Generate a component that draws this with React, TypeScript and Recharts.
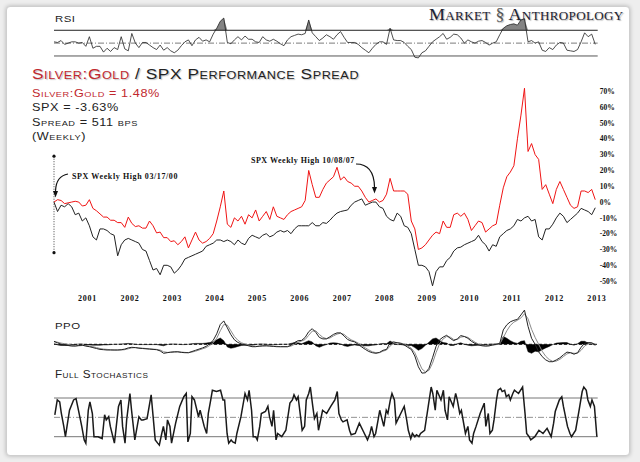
import { LineChart, Line, ComposedChart, Area, XAxis, YAxis, ReferenceLine, ReferenceDot } from 'recharts';

// weekly bars start at the SPX high of 03/17/00; values below are read monthly
const START = 2000.21;
const WEEKS_PER_MONTH = 52 / 12;
const LAST_WEEK = 666;

const yearTicks = [2001, 2002, 2003, 2004, 2005, 2006, 2007, 2008, 2009, 2010, 2011, 2012, 2013];
const spreadTicks = [-50, -40, -30, -20, -10, 0, 10, 20, 30, 40, 50, 60, 70];

// % change since 03/17/00, one value per month
const silverGold = [
  0, 1.5, 1, -1, -0.5, 0, 0.5, 0, -2.5, -2, 1.5, -4, -5.5, -7.5, -9.5, -9.5, -11.5, -11.5, -13, -13,
  -16, -9.5, -13.5, -15.5, -15, -16.5, -16.5, -12, -15, -19.5, -19, -22.5, -22.5, -25, -24.5, -27, -25, -22, -29, -24,
  -19, -24, -26, -25, -23, -20, -12, -3, 7, -14, -16, -10, -12, -9, -14, -8, -10, -5, -12, -9,
  -6, -11, -3, -9, -10, -11, -8, -6, -5, -4, -3, 1, 20, 11, 3, 3, 8, 12, 14, 16,
  22, 14, 16, 13, 12, 10, 10, 7, 3, 0, 1, 2, 0, 1, 5, 15, 7, 7, 7, 7,
  5, -12, -17, -30, -29, -27, -24, -21, -19, -20, -12, -16, -16, -8, -7, -9, -7, -11, -18, -15,
  -12, -13, -19, -17, -15, -14, -2, 9, 16, 19, 23, 40, 55, 72, 32, 37, 30, 27, 8, 11,
  5, -1, 8, 13, 8, 3, -2, -4, -3, 7, 7, 6, 8, 1.5,
];

const spx = [
  0, -6, -2, -3, -1, -3, -8, -7, -12, -10, -15, -22, -24, -17, -17, -18, -20, -21, -34, -27,
  -24, -23, -24, -25, -26, -30, -31, -37, -43, -42, -46, -40, -40, -41, -45, -43, -40, -36, -35, -34,
  -33, -32, -31, -28, -27, -26, -24, -24, -25, -24, -25, -27, -24, -26, -27, -23, -21, -22, -23, -21,
  -20, -22, -21, -19, -18, -19, -18, -20, -17, -15, -15, -15, -15, -13, -15, -15, -13, -13.5, -11.5, -9,
  -7, -6, -5.5, -5, -2, 0, 1, 2, -2, -1, 0, 0, -3, -4, -9, -11, -12, -7, -9, -15,
  -16, -20, -30, -40, -40, -41, -44, -53, -44, -41, -41, -37, -35, -31, -29, -28.5, -27, -26, -25, -24,
  -21, -25, -27, -31, -27, -28, -22, -20, -18, -17, -15, -11, -12, -10, -9, -12, -11, -22, -24, -17,
  -17, -14, -10, -7, -9, -13, -11, -9, -7, -4, -5, -6, -8, -3.6,
];

const rsi = [
  52, 51, 54, 48, 50, 52, 52, 50, 51, 45, 60, 42, 45, 45, 36, 42, 37, 43, 40, 60,
  41, 38, 65, 50, 43, 51, 51, 47, 43, 40, 47, 39, 43, 38, 35, 39, 46, 52, 55, 46,
  55, 59, 53, 55, 52, 64, 73, 84, 89, 51, 49, 55, 60, 55, 61, 56, 56, 52, 51, 60,
  55, 53, 56, 53, 49, 46, 55, 60, 62, 64, 63, 65, 86, 66, 60, 54, 58, 63, 60, 56,
  63, 68, 59, 51, 51, 51, 48, 43, 39, 35, 42, 48, 52, 52, 48, 73, 55, 54, 54, 51,
  45, 40, 28, 27, 35, 38, 45, 52, 56, 60, 65, 56, 59, 64, 63, 58, 50, 55, 52, 50,
  53, 54, 51, 47, 50, 52, 63, 73, 77, 79, 80, 78, 86, 88, 52, 54, 50, 52, 39, 37,
  43, 40, 47, 51, 50, 39, 38, 37, 40, 52, 66, 60, 64, 48,
];

const ppo = [
  1, 0.5, 0, -0.2, -0.4, -0.6, -0.6, -0.4, -0.3, -0.6, -0.8, -1.1, -1.4, -1.7, -1.8, -1.9, -1.9, -1.9, -1.9, -1.8,
  -1.6, -1.2, -1, -1.1, -1.3, -1.4, -1.5, -1.6, -1.7, -1.8, -2.2, -3, -2.8, -2.6, -2.5, -2.5, -2.7, -2.8, -2.8, -2.4,
  -2, -1.6, -1.2, -0.7, 0.2, 1.3, 3.5, 6.6, 7.8, 5.5, 3.2, 1.5, 0.6, 0.1, -0.2, -0.5, -0.8, -0.8, -0.6, -0.5,
  -0.5, -0.6, -0.7, -0.8, -0.8, -0.8, -0.8, -0.3, 0.6, 1.2, 1.3, 2.3, 4.2, 5.2, 4, 2.3, 1.8, 1.8, 2.5, 3.3,
  3.8, 3.8, 2.8, 1.6, 1.1, 0.8, 0, -0.9, -1.7, -2.4, -2.8, -3, -2.7, -2, -1.7, 0.5, 0.8, 0.5, 0.3, -0.2,
  -1, -1.7, -3.9, -7.5, -9.6, -9.5, -8, -4.5, -0.7, 1.5, 2.4, 3, 2, 1.2, 1.8, 2.9, 2.6, 2, 1, 0.3,
  -0.2, -0.5, -0.6, -0.5, -0.2, 0, 0.3, 4.8, 6.5, 7.5, 8, 8.3, 9.8, 11.4, 6, 2, 0, -2.5, -4.1, -5.2,
  -5.8, -5.8, -5.2, -4.5, -3.5, -2.6, -2.8, -3.3, -2.8, -1, 0.4, 0.6, 0.5, -0.2,
];

const ppoSignal = [
  0.8, 0.7, 0.4, 0.2, 0, -0.3, -0.5, -0.5, -0.4, -0.4, -0.6, -0.8, -1.1, -1.4, -1.6, -1.7, -1.8, -1.9, -1.9, -1.9,
  -1.8, -1.5, -1.2, -1.1, -1.2, -1.3, -1.4, -1.5, -1.6, -1.7, -1.9, -2.5, -2.7, -2.7, -2.6, -2.5, -2.6, -2.7, -2.8, -2.6,
  -2.3, -1.9, -1.5, -1.1, -0.4, 0.5, 2, 4.5, 6.6, 6.4, 4.5, 2.6, 1.3, 0.5, 0.1, -0.2, -0.5, -0.7, -0.7, -0.6,
  -0.5, -0.5, -0.6, -0.7, -0.8, -0.8, -0.8, -0.6, 0, 0.7, 1.1, 1.6, 3, 4.4, 4.5, 3.3, 2.3, 1.9, 2.1, 2.8,
  3.4, 3.7, 3.3, 2.3, 1.5, 1, 0.4, -0.4, -1.2, -1.9, -2.5, -2.8, -2.8, -2.3, -1.9, -0.6, 0.4, 0.6, 0.4, 0.1,
  -0.6, -1.3, -2.8, -5.5, -8.2, -9.2, -8.7, -6.3, -2.8, 0.2, 1.8, 2.6, 2.4, 1.6, 1.6, 2.4, 2.6, 2.3, 1.5, 0.7,
  0.1, -0.3, -0.5, -0.5, -0.3, -0.1, 0.1, 2.2, 4.5, 6.3, 7.4, 8, 8.8, 10.2, 8.5, 5, 2.3, 0, -2.3, -4,
  -5.1, -5.7, -5.6, -5, -4.1, -3.2, -2.8, -3, -3, -2, -0.6, 0.2, 0.4, 0.1,
];

// [week, %K]
const stochastics: [number, number][] = [
  [1, 54], [4, 77], [7, 74], [9, 56], [12, 36], [14, 20], [19, 61], [24, 77], [27, 79], [29, 67],
  [34, 36], [37, 15], [39, 10], [42, 61], [44, 74], [47, 56], [49, 20], [54, 20], [59, 17], [62, 54],
  [64, 46], [67, 51], [69, 36], [74, 10], [79, 67], [82, 77], [84, 36], [87, 10], [89, 46], [93, 87],
  [95, 61], [99, 15], [104, 51], [107, 46], [109, 46], [114, 48], [119, 85], [124, 15], [127, 10], [129, 7],
  [132, 25], [134, 36], [137, 15], [139, 46], [142, 36], [144, 10], [149, 41], [154, 67], [159, 82], [162, 87],
  [164, 12], [167, 25], [169, 82], [172, 77], [177, 51], [179, 61], [182, 46], [184, 36], [187, 25], [189, 56],
  [192, 77], [194, 92], [199, 90], [204, 92], [207, 77], [209, 77], [212, 25], [214, 10], [217, 15], [219, 12],
  [222, 10], [224, 25], [229, 51], [234, 87], [237, 77], [239, 92], [242, 61], [244, 20], [247, 20], [249, 15],
  [252, 36], [254, 56], [259, 59], [262, 67], [264, 51], [267, 36], [269, 61], [272, 15], [274, 25], [279, 20],
  [284, 30], [289, 72], [292, 77], [294, 85], [297, 77], [299, 82], [302, 51], [304, 30], [307, 36], [309, 77],
  [312, 87], [314, 97], [317, 67], [319, 48], [322, 56], [324, 30], [329, 61], [334, 56], [339, 67], [344, 77],
  [347, 90], [349, 56], [352, 46], [354, 43], [359, 46], [362, 30], [364, 23], [369, 25], [374, 41], [379, 28],
  [384, 15], [387, 25], [389, 36], [392, 20], [394, 25], [397, 46], [399, 61], [402, 46], [404, 36], [407, 61],
  [409, 56], [412, 77], [414, 87], [417, 77], [419, 41], [424, 54], [429, 67], [432, 46], [434, 30], [437, 17],
  [439, 25], [442, 20], [444, 23], [447, 20], [449, 25], [454, 30], [459, 72], [462, 97], [464, 87], [467, 61],
  [469, 92], [474, 77], [477, 92], [479, 61], [482, 46], [484, 82], [489, 67], [492, 87], [494, 77], [497, 56],
  [499, 61], [504, 25], [507, 36], [509, 15], [512, 10], [514, 25], [517, 36], [522, 56], [527, 72], [529, 36],
  [532, 56], [534, 25], [537, 30], [539, 46], [542, 77], [544, 92], [547, 95], [549, 90], [552, 92], [554, 82],
  [557, 85], [559, 77], [562, 87], [564, 92], [569, 87], [574, 97], [577, 56], [579, 25], [582, 20], [584, 15],
  [589, 20], [594, 30], [599, 25], [604, 33], [609, 20], [612, 41], [614, 59], [619, 77], [622, 82], [624, 67],
  [629, 36], [632, 25], [634, 20], [639, 30], [644, 67], [647, 90], [649, 97], [652, 92], [654, 77], [657, 67],
  [659, 77], [662, 67], [665, 20],
];

const weekOfYear = (year: number) => (year - START) * 52;

const mainRows = silverGold.map((v, i) => ({ week: i * WEEKS_PER_MONTH, silverGold: v, spx: spx[i] }));
const rsiRows = rsi.map((v, i) => ({ week: i * WEEKS_PER_MONTH, rsi: v, over: Math.max(v, 70) }));
const ppoRows = ppo.map((v, i) => ({
  week: i * WEEKS_PER_MONTH,
  ppo: v,
  signal: ppoSignal[i],
  hist: v - ppoSignal[i],
}));
const stochRows = stochastics.map(([week, k]) => ({ week, k }));

const W = 640;
const PLOT_LEFT = 54;
const PLOT_RIGHT = 597.7;
const sideMargin = { left: PLOT_LEFT, right: W - PLOT_RIGHT };

const tickFont = { fontFamily: '"Liberation Serif", serif', fontWeight: 700, fontSize: 7.5, fill: '#111' };
const capsFont = { fontFamily: '"Liberation Sans", Arial, sans-serif', fontVariant: 'small-caps' as const };
const dashDot = '6 2 1 2';

function Label({ x, y, size, stretch, children }: { x: number; y: number; size: number; stretch: number; children: React.ReactNode }) {
  return (
    <div
      style={{
        position: 'absolute', left: x, top: y, fontSize: size, color: '#222', whiteSpace: 'nowrap',
        letterSpacing: 0.4, transform: `scaleX(${stretch})`, transformOrigin: 'left top', ...capsFont,
      }}
    >
      {children}
    </div>
  );
}

export default function App() {
  const hiddenX = <XAxis dataKey="week" type="number" domain={[0, LAST_WEEK]} hide />;

  return (
    <div style={{ position: 'absolute', left: 0, top: 0, width: W, height: 462, background: '#eeeeee', overflow: 'hidden' }}>
      <div
        style={{
          position: 'absolute', left: 6, top: 6, width: 622, height: 448, background: '#fff',
          border: '1px solid #cfcfcf', borderRadius: 4, boxShadow: '0 0 4px rgba(0,0,0,0.25)',
        }}
      />

      {/* logo */}
      <div
        style={{
          position: 'absolute', left: 429, top: 5, fontSize: 16.5, color: '#1c2230', whiteSpace: 'nowrap',
          fontFamily: '"Liberation Serif", serif', fontVariant: 'small-caps', letterSpacing: 0.3,
          textShadow: '1px 1px 1px rgba(0,0,0,0.3)', transform: 'scaleX(1.09)', transformOrigin: 'left top',
        }}
      >
        Market <span style={{ color: '#555' }}>§</span> Anthropology
      </div>

      <Label x={55} y={13} size={9.5} stretch={1.2}>RSI</Label>
      <div style={{ position: 'absolute', left: 0, top: 0 }}>
        <ComposedChart width={W} height={70} data={rsiRows} margin={{ top: 14.2, bottom: 7.6, ...sideMargin }}>
          {hiddenX}
          <YAxis hide domain={[20, 95]} />
          <ReferenceLine y={70} stroke="#222" strokeWidth={1} />
          <ReferenceLine y={30} stroke="#555" strokeWidth={1} />
          <ReferenceLine y={50} stroke="#444" strokeWidth={0.7} strokeDasharray={dashDot} />
          <Area dataKey="over" baseValue={70} stroke="none" fill="#777" fillOpacity={0.9} isAnimationActive={false} />
          <Line dataKey="rsi" stroke="#222" strokeWidth={0.8} dot={false} isAnimationActive={false} />
        </ComposedChart>
      </div>

      {/* title block */}
      <div
        style={{
          position: 'absolute', left: 32, top: 65, fontSize: 15, color: '#222', whiteSpace: 'nowrap',
          letterSpacing: 0.5, textShadow: '1px 1px 1px rgba(0,0,0,0.25)',
          transform: 'scaleX(1.15)', transformOrigin: 'left top', ...capsFont,
        }}
      >
        <span style={{ color: '#c1272d' }}>Silver:Gold</span> / SPX Performance Spread
      </div>
      <div
        style={{
          position: 'absolute', left: 32, top: 86, fontSize: 11, lineHeight: '14.4px', color: '#222',
          whiteSpace: 'nowrap', letterSpacing: 0.5, transform: 'scaleX(1.15)', transformOrigin: 'left top', ...capsFont,
        }}
      >
        <div style={{ color: '#c1272d' }}>Silver:Gold = 1.48%</div>
        <div>SPX = -3.63%</div>
        <div>Spread = 511 bps</div>
        <div>(Weekly)</div>
      </div>

      {/* main spread chart */}
      <div style={{ position: 'absolute', left: 0, top: 0 }}>
        <LineChart width={W} height={310} data={mainRows} margin={{ top: 83.5, bottom: 0, left: PLOT_LEFT, right: 6.3 }}>
          <XAxis
            dataKey="week"
            type="number"
            domain={[0, LAST_WEEK]}
            ticks={yearTicks.map(weekOfYear)}
            tickFormatter={(w: number) => String(Math.round(w / 52 + START))}
            axisLine={false}
            tickLine={false}
            tickSize={0}
            tickMargin={6}
            height={21}
            tick={{ ...tickFont, fontSize: 8, letterSpacing: 0.8 }}
            interval={0}
          />
          <YAxis
            orientation="right"
            domain={[-55, 75]}
            ticks={spreadTicks}
            tickFormatter={(v: number) => `${v}%`}
            axisLine={false}
            tickLine={false}
            tickSize={0}
            tickMargin={2}
            width={36}
            tick={{ ...tickFont, textAnchor: 'start' }}
            interval={0}
          />
          <ReferenceLine
            segment={[{ x: 0, y: 29 }, { x: 0, y: -32 }]}
            stroke="#111"
            strokeWidth={0.8}
            strokeDasharray="1 1.5"
            ifOverflow="visible"
          />
          <ReferenceDot x={0} y={29} r={1.6} fill="#111" stroke="none" ifOverflow="visible" />
          <ReferenceDot x={0} y={-32} r={1.6} fill="#111" stroke="none" ifOverflow="visible" />
          <Line dataKey="spx" stroke="#222" strokeWidth={1} dot={false} isAnimationActive={false} />
          <Line dataKey="silverGold" stroke="#f01414" strokeWidth={1} dot={false} isAnimationActive={false} />
        </LineChart>
      </div>

      {/* annotations */}
      <svg width={W} height={462} style={{ position: 'absolute', left: 0, top: 0, pointerEvents: 'none' }}>
        <text x={72} y={179} style={{ ...tickFont, fontSize: 8, letterSpacing: 0.6 }}>SPX Weekly High 03/17/00</text>
        <path d="M 68 174 Q 56 176 55.5 191" fill="none" stroke="#111" strokeWidth={1.2} />
        <polygon points="53,191 58,191 55.5,197.5" fill="#111" />
        <text x={251} y={163} style={{ ...tickFont, fontSize: 8, letterSpacing: 0.5 }}>SPX Weekly High 10/08/07</text>
        <path d="M 356 164 Q 374 164 374.5 187" fill="none" stroke="#111" strokeWidth={1.2} />
        <polygon points="372,187 377,187 374.5,193.5" fill="#111" />
      </svg>

      <Label x={55} y={320} size={9.5} stretch={1.2}>PPO</Label>
      <div style={{ position: 'absolute', left: 0, top: 300 }}>
        <ComposedChart width={W} height={82} data={ppoRows} margin={{ top: 6.8, bottom: 3.2, ...sideMargin }}>
          {hiddenX}
          <YAxis hide domain={[-11.5, 12.5]} />
          <Area dataKey="hist" baseValue={0} stroke="#000" strokeWidth={0.5} fill="#000" fillOpacity={1} isAnimationActive={false} />
          <ReferenceLine y={0} stroke="#111" strokeWidth={1} strokeDasharray="3 2" />
          <Line dataKey="signal" stroke="#8a8a8a" strokeWidth={1} dot={false} isAnimationActive={false} />
          <Line dataKey="ppo" stroke="#222" strokeWidth={1} dot={false} isAnimationActive={false} />
        </ComposedChart>
      </div>

      <Label x={55} y={369} size={10} stretch={1.17}>Full Stochastics</Label>
      <div style={{ position: 'absolute', left: 0, top: 380 }}>
        <LineChart width={W} height={72} data={stochRows} margin={{ top: 5.1, bottom: 2.4, ...sideMargin }}>
          {hiddenX}
          <YAxis hide domain={[0, 100]} />
          <ReferenceLine y={80} stroke="#777" strokeWidth={1} />
          <ReferenceLine y={20} stroke="#777" strokeWidth={1} />
          <ReferenceLine y={50} stroke="#777" strokeWidth={0.8} strokeDasharray={dashDot} />
          <Line dataKey="k" stroke="#1a1a1a" strokeWidth={1.5} dot={false} isAnimationActive={false} />
        </LineChart>
      </div>
    </div>
  );
}
